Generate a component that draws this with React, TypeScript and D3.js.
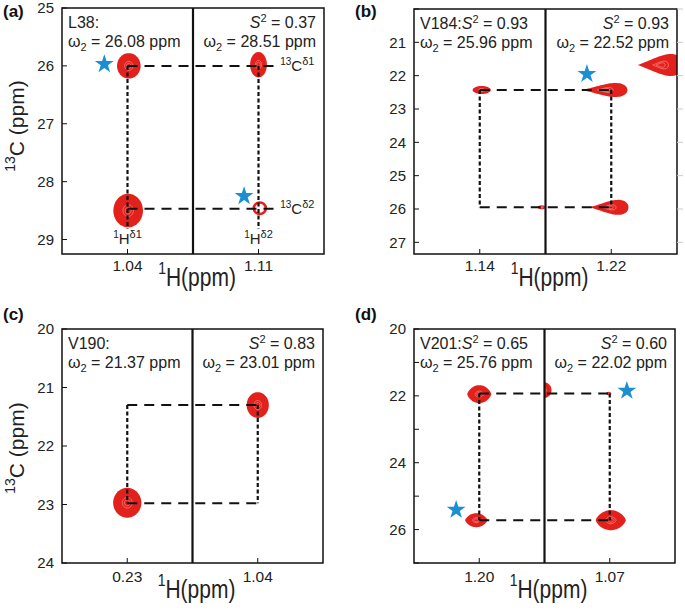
import React from 'react';
import * as d3 from 'd3';

const FONT = '"Liberation Sans", Arial, Helvetica, sans-serif';
const RED = '#e3211c';
const BLUE = '#1b8fd2';

// ---------- data ----------
const panelLetters = ['(a)', '(b)', '(c)', '(d)'];
const residueLabels = ['L38:', 'V184:', 'V190:', 'V201:'];
const leftS2 = ['', '0.93', '', '0.65'];
const rightS2 = ['0.37', '0.93', '0.83', '0.60'];
const leftOmega = ['26.08', '25.96', '21.37', '25.76'];
const rightOmega = ['28.51', '22.52', '23.01', '22.02'];

const stripTicks = [[1.04, 1.11], [1.14, 1.22], [0.23, 1.04], [1.2, 1.07]];
const stripTickLabels = [['1.04', '1.11'], ['1.14', '1.22'], ['0.23', '1.04'], ['1.20', '1.07']];
const stripHalfWidth = 0.05;

const carbonDomains = [[25, 29.25], [20, 27.35], [20, 24], [20, 27]];
const carbonTicks = [
  [25, 26, 27, 28, 29],
  [20, 21, 22, 23, 24, 25, 26, 27],
  [20, 21, 22, 23, 24],
  [20, 21, 22, 23, 24, 25, 26, 27],
];
const carbonTickLabels = [
  ['25', '26', '27', '28', '29'],
  ['', '21', '22', '23', '24', '25', '26', '27'],
  ['20', '21', '22', '23', '24'],
  ['20', '', '22', '', '24', '', '26', ''],
];

type Peak = { strip: number; h: number; c: number; wh: number; wc: number; shape: string };
const peaksA: Peak[] = [
  { strip: 0, h: 1.041, c: 26.0, wh: 0.009, wc: 0.22, shape: 'round' },
  { strip: 0, h: 1.0405, c: 28.5, wh: 0.0113, wc: 0.29, shape: 'round' },
  { strip: 1, h: 1.11, c: 25.98, wh: 0.0064, wc: 0.22, shape: 'round' },
  { strip: 1, h: 1.111, c: 28.46, wh: 0.0046, wc: 0.1, shape: 'ring' },
];
const peaksB: Peak[] = [
  { strip: 0, h: 1.1415, c: 22.43, wh: 0.0069, wc: 0.12, shape: 'round' },
  { strip: 0, h: 1.187, c: 25.95, wh: 0.003, wc: 0.06, shape: 'round' },
  { strip: 1, h: 1.2154, c: 22.43, wh: 0.0169, wc: 0.21, shape: 'tearL' },
  { strip: 1, h: 1.2185, c: 25.95, wh: 0.0146, wc: 0.225, shape: 'tearL' },
  { strip: 1, h: 1.2575, c: 21.68, wh: 0.017, wc: 0.33, shape: 'tearL' },
];
const peaksC: Peak[] = [
  { strip: 0, h: 0.23, c: 22.97, wh: 0.0108, wc: 0.256, shape: 'round' },
  { strip: 1, h: 1.04, c: 21.3, wh: 0.0085, wc: 0.22, shape: 'round' },
];
const peaksD: Peak[] = [
  { strip: 0, h: 1.2, c: 21.95, wh: 0.0092, wc: 0.27, shape: 'lens' },
  { strip: 0, h: 1.1977, c: 25.72, wh: 0.0085, wc: 0.21, shape: 'lens' },
  { strip: 1, h: 1.0192, c: 21.83, wh: 0.0062, wc: 0.24, shape: 'round' },
  { strip: 1, h: 1.0708, c: 25.72, wh: 0.0115, wc: 0.3, shape: 'lens' },
  { strip: 1, h: 1.0692, c: 21.93, wh: 0.002, wc: 0.05, shape: 'round' },
];
const allPeaks = [peaksA, peaksB, peaksC, peaksD];

type Star = { strip: number; h: number; c: number };
const starsA: Star[] = [{ strip: 0, h: 1.0223, c: 25.97 }, { strip: 1, h: 1.099, c: 28.25 }];
const starsB: Star[] = [{ strip: 1, h: 1.2015, c: 21.95 }];
const starsC: Star[] = [];
const starsD: Star[] = [{ strip: 0, h: 1.1823, c: 25.41 }, { strip: 1, h: 1.0831, c: 21.85 }];
const allStars = [starsA, starsB, starsC, starsD];

// horizontal dashed connectors: carbon, H in left strip, H in right strip
type HLine = { c: number; h0: number; h1: number };
const hLinesA: HLine[] = [{ c: 26.0, h0: 1.04, h1: 1.1235 }, { c: 28.47, h0: 1.04, h1: 1.1235 }];
const hLinesB: HLine[] = [{ c: 22.43, h0: 1.14, h1: 1.22 }, { c: 25.95, h0: 1.14, h1: 1.22 }];
const hLinesC: HLine[] = [{ c: 21.3, h0: 0.23, h1: 1.04 }, { c: 22.98, h0: 0.23, h1: 1.04 }];
const hLinesD: HLine[] = [{ c: 21.93, h0: 1.2, h1: 1.07 }, { c: 25.72, h0: 1.2, h1: 1.07 }];
const allHLines = [hLinesA, hLinesB, hLinesC, hLinesD];

type VLine = { strip: number; h: number; c0: number; c1: number };
const vLinesA: VLine[] = [{ strip: 0, h: 1.04, c0: 26.0, c1: 28.82 }, { strip: 1, h: 1.11, c0: 26.0, c1: 28.82 }];
const vLinesB: VLine[] = [{ strip: 0, h: 1.14, c0: 22.43, c1: 25.95 }, { strip: 1, h: 1.22, c0: 22.43, c1: 25.95 }];
const vLinesC: VLine[] = [{ strip: 0, h: 0.23, c0: 21.3, c1: 22.98 }, { strip: 1, h: 1.04, c0: 21.3, c1: 22.98 }];
const vLinesD: VLine[] = [{ strip: 0, h: 1.2, c0: 21.93, c1: 25.72 }, { strip: 1, h: 1.07, c0: 21.93, c1: 25.72 }];
const allVLines = [vLinesA, vLinesB, vLinesC, vLinesD];

// atom labels of panel (a)
const carbonAtomLabels = [{ c: 26.0, sup: 'δ1' }, { c: 28.47, sup: 'δ2' }];
const protonAtomLabels = [{ strip: 0, sup: 'δ1' }, { strip: 1, sup: 'δ2' }];

// ---------- layout ----------
const frames = [
  { x0: 62, x1: 324, y0: 8, y1: 254 },
  { x0: 414, x1: 677, y0: 9, y1: 254 },
  { x0: 62, x1: 323, y0: 329, y1: 563 },
  { x0: 414, x1: 675, y0: 329, y1: 563 },
];

function blobPath(cx: number, cy: number, rx: number, ry: number, shape: string, k = 1) {
  const n = 80;
  const pts: [number, number][] = [];
  for (let i = 0; i < n; i++) {
    const t = (i / n) * Math.PI * 2;
    const u = Math.cos(t);
    const v = Math.sin(t);
    let y = v;
    if (shape === 'tearL') y = (v * (0.55 + 0.45 * u)) / 0.672;
    if (shape === 'lens') y = Math.sign(v) * Math.pow(Math.abs(v), 1.4);
    pts.push([cx + rx * k * u, cy + ry * k * y]);
  }
  return d3.line().curve(d3.curveLinearClosed)(pts) as string;
}

const starPath = d3.symbol().type(d3.symbolStar).size(110)() as string;

function Panel({ p }: { p: number }) {
  const f = frames[p];
  const mid = (f.x0 + f.x1) / 2;
  const stripRanges = [[f.x0, mid], [mid, f.x1]];
  const xs = stripTicks[p].map((t, i) =>
    d3.scaleLinear().domain([t - stripHalfWidth, t + stripHalfWidth]).range(stripRanges[i])
  );
  const y = d3.scaleLinear().domain(carbonDomains[p]).range([f.y0, f.y1]);
  const bottomRow = p >= 2;
  const tickLabelY = f.y1 + (bottomRow ? 19 : 17);
  const titleY = f.y1 + (bottomRow ? 35 : 32);

  return (
    <g>
      <defs>
        {stripRanges.map((r, i) => (
          <clipPath id={`clip-${p}-${i}`} key={i}>
            <rect x={r[0]} y={f.y0} width={r[1] - r[0]} height={f.y1 - f.y0} />
          </clipPath>
        ))}
      </defs>

      {/* peaks */}
      {allPeaks[p].map((pk, i) => {
        const sx = xs[pk.strip];
        const cx = sx(pk.h);
        const cy = y(pk.c);
        const rx = Math.abs(sx(pk.h + pk.wh) - cx);
        const ry = Math.abs(y(pk.c + pk.wc) - cy);
        if (pk.shape === 'ring') {
          return (
            <g key={i} clipPath={`url(#clip-${p}-${pk.strip})`}>
              <ellipse cx={cx} cy={cy} rx={rx} ry={ry} fill="#fff3f3" stroke={RED} strokeWidth={2.6} />
            </g>
          );
        }
        return (
          <g key={i} clipPath={`url(#clip-${p}-${pk.strip})`}>
            <path d={blobPath(cx, cy, rx, ry, pk.shape)} fill={RED} />
            {[0.35, 0.2].map((k) => (
              <path key={k} d={blobPath(cx, cy, rx, ry, pk.shape, k)} fill="none" stroke="#f8c4c2" strokeWidth={0.6} opacity={0.8} />
            ))}
          </g>
        );
      })}

      {/* frame */}
      <rect x={f.x0} y={f.y0} width={f.x1 - f.x0} height={f.y1 - f.y0} fill="none" stroke="#111" strokeWidth={1.5} />
      <line x1={mid} x2={mid} y1={f.y0} y2={f.y1} stroke="#111" strokeWidth={2.2} />

      {/* y ticks */}
      {carbonTicks[p].map((t, i) => (
        <g key={i}>
          <line x1={f.x0} x2={f.x0 + 5} y1={y(t)} y2={y(t)} stroke="#111" strokeWidth={1} />
          {p === 1 && <line x1={f.x1} x2={f.x1 + 6} y1={y(t)} y2={y(t)} stroke="#ccc" strokeWidth={1} />}
          <text x={f.x0 - 8} y={y(t)} dy="0.36em" textAnchor="end" fontSize={15} fill="#222">
            {carbonTickLabels[p][i]}
          </text>
        </g>
      ))}

      {/* x ticks */}
      {stripTicks[p].map((t, i) => (
        <g key={i}>
          <line x1={xs[i](t)} x2={xs[i](t)} y1={f.y1} y2={f.y1 - 5} stroke="#111" strokeWidth={1} />
          <text x={xs[i](t)} y={tickLabelY} textAnchor="middle" fontSize={15.5} fill="#222">
            {stripTickLabels[p][i]}
          </text>
        </g>
      ))}

      {/* connectors */}
      {allHLines[p].map((l, i) => (
        <line key={'h' + i} x1={xs[0](l.h0)} x2={xs[1](l.h1)} y1={y(l.c)} y2={y(l.c)}
          stroke="#111" strokeWidth={2} strokeDasharray="10,7" />
      ))}
      {allVLines[p].map((l, i) => (
        <line key={'v' + i} x1={xs[l.strip](l.h)} x2={xs[l.strip](l.h)} y1={y(l.c0)} y2={y(l.c1)}
          stroke="#111" strokeWidth={2.2} strokeDasharray="4,2.5" />
      ))}

      {/* stars */}
      {allStars[p].map((s, i) => (
        <path key={i} d={starPath} fill={BLUE} transform={`translate(${xs[s.strip](s.h)},${y(s.c)})`} />
      ))}

      {/* atom labels (panel a) */}
      {p === 0 && carbonAtomLabels.map((l, i) => (
        <text key={'c' + i} x={xs[1](hLinesA[i].h1) + 4} y={y(l.c) + 5} fontSize={15} fill="#222">
          <tspan fontSize={10} dy={-6}>13</tspan>
          <tspan dy={6}>C</tspan>
          <tspan fontSize={11} dy={-6}>{l.sup}</tspan>
        </text>
      ))}
      {p === 0 && protonAtomLabels.map((l, i) => (
        <text key={'p' + i} x={xs[l.strip](stripTicks[0][l.strip])} y={y(vLinesA[i].c1) + 15}
          textAnchor="middle" fontSize={15} fill="#222">
          <tspan fontSize={10} dy={-6}>1</tspan>
          <tspan dy={6}>H</tspan>
          <tspan fontSize={11} dy={-6}>{l.sup}</tspan>
        </text>
      ))}

      {/* info text */}
      <text x={f.x0 + 6} y={f.y0 + 20} fontSize={16} fill="#222">
        {residueLabels[p]}
        {leftS2[p] && (
          <>
            <tspan fontStyle="italic">S</tspan>
            <tspan fontSize={11} dy={-6}>2</tspan>
            <tspan dy={6}>{'  = ' + leftS2[p]}</tspan>
          </>
        )}
      </text>
      <text x={f.x0 + 6} y={f.y0 + 39} fontSize={16} fill="#222">
        ω<tspan fontSize={11} dy={4}>2</tspan>
        <tspan dy={-4}>{' = ' + leftOmega[p] + ' ppm'}</tspan>
      </text>
      <text x={f.x1 - 8} y={f.y0 + 20} fontSize={16} fill="#222" textAnchor="end">
        <tspan fontStyle="italic">S</tspan>
        <tspan fontSize={11} dy={-6}>2</tspan>
        <tspan dy={6}>{'  = ' + rightS2[p]}</tspan>
      </text>
      <text x={f.x1 - 8} y={f.y0 + 39} fontSize={16} fill="#222" textAnchor="end">
        ω<tspan fontSize={11} dy={4}>2</tspan>
        <tspan dy={-4}>{' = ' + rightOmega[p] + ' ppm'}</tspan>
      </text>

      {/* x title */}
      <text transform={`translate(${mid + 4},${titleY}) scale(1,1.22)`} textAnchor="middle" fontSize={21} fill="#222">
        <tspan fontSize={14} dy={-10}>1</tspan>
        <tspan dy={10}>H(ppm)</tspan>
      </text>

      {/* y title */}
      {(p === 0 || p === 2) && (
        <text transform={`translate(24,${p === 0 ? 126 : 448}) rotate(-90)`} textAnchor="middle" fontSize={21} fill="#222">
          <tspan fontSize={14} dy={-9}>13</tspan>
          <tspan dy={9}>C (ppm)</tspan>
        </text>
      )}

      {/* panel letter */}
      <text x={p % 2 === 0 ? 3 : 355} y={p < 2 ? 17 : 320} fontSize={17} fontWeight="bold" fill="#111">
        {panelLetters[p]}
      </text>
    </g>
  );
}

export default function App() {
  return (
    <svg width={685} height={610} style={{ position: 'absolute', left: 0, top: 0, background: '#fff' }}
      fontFamily={FONT}>
      {[0, 1, 2, 3].map((p) => (
        <Panel key={p} p={p} />
      ))}
    </svg>
  );
}
